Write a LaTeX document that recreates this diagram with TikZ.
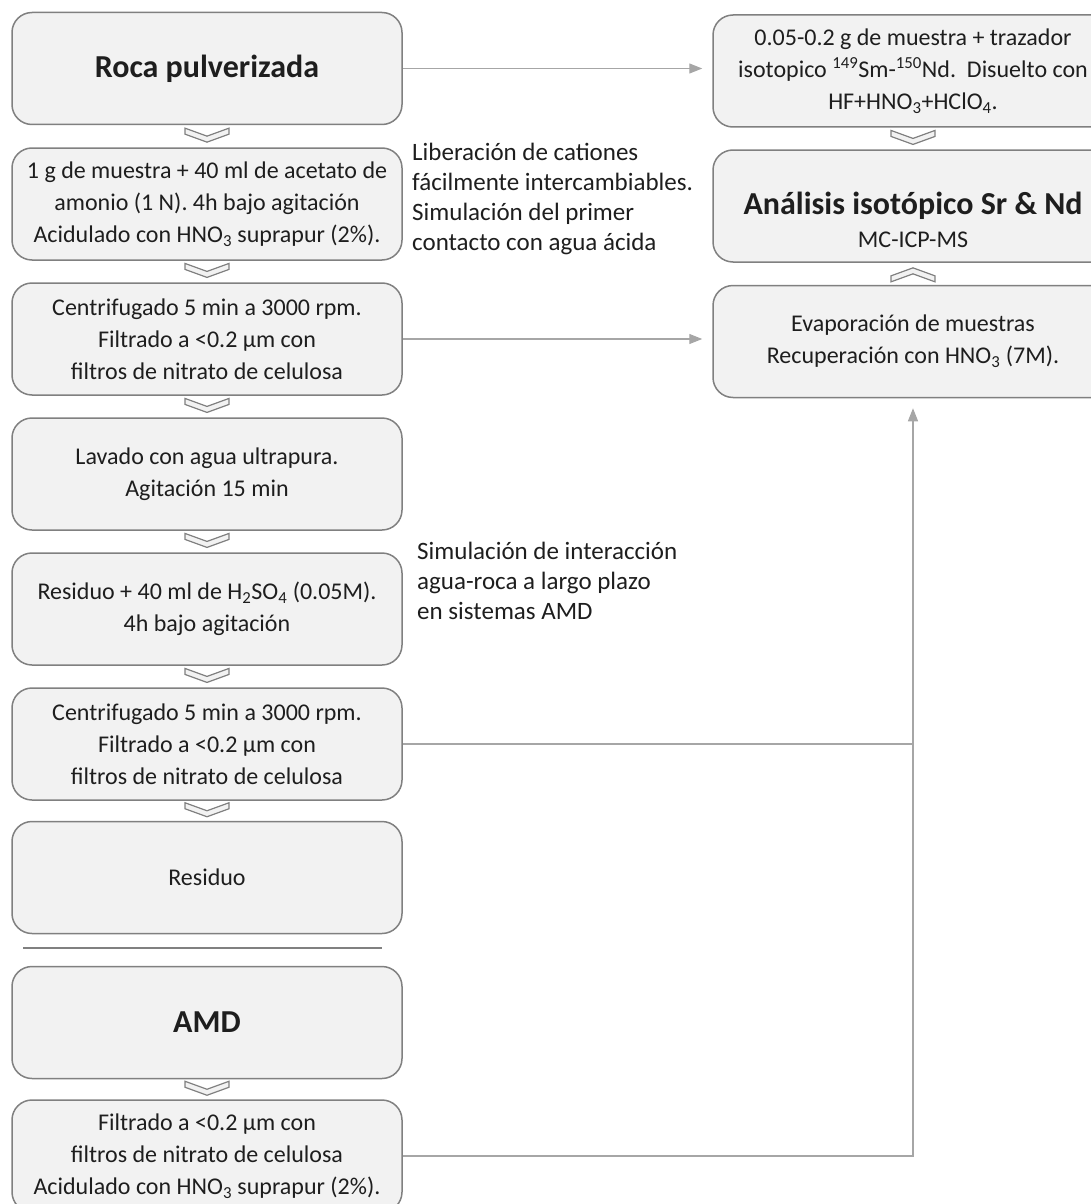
\documentclass[tikz,border=0pt]{standalone}
\usepackage{fontspec}
\setmainfont{Carlito}
\usetikzlibrary{arrows.meta,calc}
\definecolor{boxfill}{RGB}{242,242,242}
\definecolor{boxline}{RGB}{128,128,128}
\definecolor{linkgray}{RGB}{166,166,166}
\definecolor{inktext}{RGB}{30,30,30}

\tikzset{
  stepbox/.style={draw=boxline, line width=1.5pt, fill=boxfill, rounded corners=20pt,
    minimum width=390pt, minimum height=112pt, align=center,
    inner sep=0pt, text=inktext, font=\fontsize{24}{32}\selectfont},
  sidenote/.style={anchor=north west, align=left, inner sep=0pt, text=inktext,
    font=\fontsize{25}{30}\selectfont},
  link/.style={draw=linkgray, line width=1.2pt},
  tip/.style={-{Triangle[length=13pt,width=10pt]}, shorten >=10pt},
  chev/.style={draw=boxline, line width=1.2pt, fill=boxfill},
  pics/chevdown/.style={code={
    \draw[chev] (-22,-7) -- (0,1) -- (22,-7) -- (22,-1) -- (0,7) -- (-22,-1) -- cycle;}},
  pics/chevup/.style={code={
    \draw[chev] (-22,7) -- (0,-1) -- (22,7) -- (22,1) -- (0,-7) -- (-22,1) -- cycle;}}
}

\begin{document}
\begin{tikzpicture}[x=1pt,y=-1pt]
\useasboundingbox (0,0) rectangle (1091,1204);

% Left column
\node[stepbox] (b1) at (207,68.5) {\fontsize{32}{36}\bfseries Roca pulverizada};
\node[stepbox] (b2) at (207,204) {1 g de muestra + 40 ml de acetato de\\ amonio (1 N). 4h bajo agitación\\ Acidulado con HNO\textsubscript{3} suprapur (2\%).};
\node[stepbox] (b3) at (207,339) {Centrifugado 5 min a 3000 rpm.\\ Filtrado a <0.2 µm con\\ filtros de nitrato de celulosa};
\node[stepbox] (b4) at (207,474) {Lavado con agua ultrapura.\\ Agitación 15 min};
\node[stepbox] (b5) at (207,609) {Residuo + 40 ml de H\textsubscript{2}SO\textsubscript{4} (0.05M).\\ 4h bajo agitación};
\node[stepbox] (b6) at (207,744) {Centrifugado 5 min a 3000 rpm.\\ Filtrado a <0.2 µm con\\ filtros de nitrato de celulosa};
\node[stepbox] (b7) at (207,877.5) {Residuo};
\node[stepbox] (b8) at (207,1022.5) {\fontsize{32}{36}\bfseries AMD};
\node[stepbox] (b9) at (207,1156) {Filtrado a <0.2 µm con\\ filtros de nitrato de celulosa\\ Acidulado con HNO\textsubscript{3} suprapur (2\%).};

% Separator
\draw[draw=boxline, line width=1.2pt] (23,948) -- (382,948);

% Right column
\node[stepbox, minimum width=400pt] (r1) at (913,71) {0.05-0.2 g de muestra + trazador\\ isotopico \textsuperscript{149}Sm-\textsuperscript{150}Nd.\ \ Disuelto con\\ HF+HNO\textsubscript{3}+HClO\textsubscript{4}.};
\node[stepbox, minimum width=400pt] (r2) at (913,206) {\rule{0pt}{50pt}{\fontsize{32}{36}\bfseries Análisis isotópico Sr \& Nd}\\[1pt] MC-ICP-MS};
\node[stepbox, minimum width=400pt] (r3) at (913,341.5) {Evaporación de muestras\\ Recuperación con HNO\textsubscript{3} (7M).};

% Notes
\node[sidenote] (n1) at (412,143) {Liberación de cationes\\ fácilmente intercambiables.\\ Simulación del primer\\ contacto con agua ácida};
\node[sidenote] (n2) at (417,542) {Simulación de interacción\\ agua-roca a largo plazo\\ en sistemas AMD};

% Chevrons
\foreach \a/\b in {b1/b2,b2/b3,b3/b4,b4/b5,b5/b6,b6/b7,b8/b9,r1/r2} {
    \pic at ($(\a.south)!0.45!(\b.north)$) {chevdown};
}
\pic at ($(r3.north)!0.45!(r2.south)$) {chevup};

% Connections
\coordinate (jn) at (b9.east -| r3.south);
\draw[link,tip] (b1.east) -- (b1.east -| r1.west);
\draw[link,tip] (b3.east) -- (b3.east -| r3.west);
\draw[link] (b6.east) -- (b6.east -| jn);
\draw[link,tip] (b9.east) -- (jn) -- (r3.south);
\end{tikzpicture}
\end{document}
